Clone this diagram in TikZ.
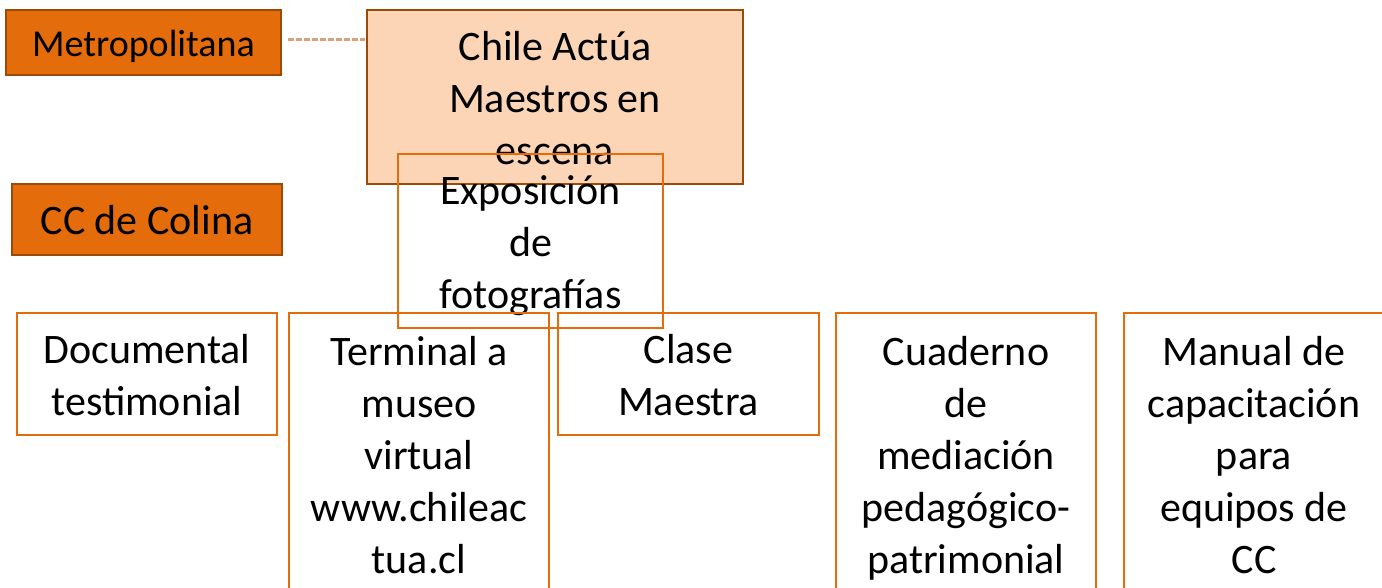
\documentclass[tikz,border=0pt]{standalone}
\usepackage{fontspec}
\setmainfont{Carlito}
\newcommand{\stA}{\rule[-10.6pt]{0pt}{52pt}}
\newcommand{\stB}{\rule[-8.8pt]{0pt}{46pt}}
\definecolor{dkorange}{HTML}{E46C0A}
\definecolor{brownline}{HTML}{9C4A08}
\definecolor{peach}{HTML}{FBD5B5}
\definecolor{tan}{HTML}{D6A27F}
\tikzset{
  darkbox/.style={draw=brownline, line width=1.5pt, fill=dkorange, inner sep=0pt, align=center,
    font=\fontsize{38}{46}\selectfont},
  peachbox/.style={draw=brownline, line width=1.5pt, fill=peach, inner sep=0pt, align=center,
    font=\fontsize{42}{52}\selectfont},
  linebox/.style={draw=dkorange, line width=2pt, inner sep=0pt, align=center,
    font=\fontsize{42}{52}\selectfont},
  conn/.style={draw=tan, line width=3pt, dash pattern=on 6pt off 2pt}
}
\begin{document}
\begin{tikzpicture}[x=1pt,y=-1pt]
\useasboundingbox (0,0) rectangle (1382,588);
\clip (0,0) rectangle (1382,588);
% top-left boxes
\node[darkbox, minimum width=275pt, minimum height=65pt] (metro) at (143.5,42.5) {\stB Metropolitana};
\node[darkbox, minimum width=270pt, minimum height=71pt, font=\fontsize{42}{52}\selectfont] (colina) at (147,219.5) {\stA CC de Colina};
% main box
\node[peachbox, minimum width=376pt, minimum height=174pt] (chile) at (555,97) {\stA Chile Actúa\\\stA Maestros en\\\stA escena};
% connector
\coordinate (cs) at (288,40);
\coordinate (ce) at (365,40);
\draw[conn] (cs) -- (ce);
% second level
\node[linebox, minimum width=265pt, minimum height=174pt] (expo) at (530.5,241) {\stA Exposición\\\stA de\\\stA fotografías};
% bottom row
\node[linebox, minimum width=260pt, minimum height=122pt] (doc) at (147,374) {\stA Documental\\\stA testimonial};
\node[linebox, minimum width=260pt, minimum height=282pt] (term) at (419,454) {\stA Terminal a\\\stA museo\\\stA virtual\\\stA www.chileac\\\stA tua.cl};
\node[linebox, minimum width=261pt, minimum height=122pt] (clase) at (688.5,374) {\stA Clase\\\stA Maestra};
\node[linebox, minimum width=260pt, minimum height=282pt] (cuad) at (966,454) {\stA Cuaderno\\\stA de\\\stA mediación\\\stA pedagógico-\\\stA patrimonial};
\node[linebox, minimum width=260pt, minimum height=282pt] (manual) at (1254,454) {\stA Manual de\\\stA capacitación\\\stA para\\\stA equipos de\\\stA CC};
\end{tikzpicture}
\end{document}
